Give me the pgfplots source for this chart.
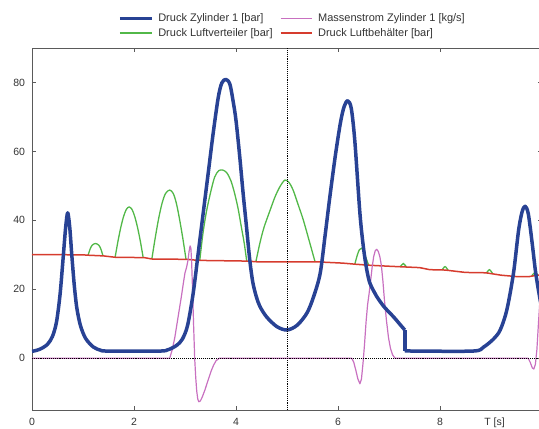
\documentclass[border=0pt]{standalone}
\usepackage{fontspec}
\setmainfont{Liberation Sans}
\usepackage{pgfplots}
\pgfplotsset{compat=1.18}
\definecolor{cBlue}{RGB}{40,66,148}
\definecolor{cGreen}{RGB}{82,184,72}
\definecolor{cRed}{RGB}{214,60,46}
\definecolor{cPink}{RGB}{200,112,192}
\definecolor{cAxis}{RGB}{90,90,90}
\pgfplotsset{
  blueS/.style={cBlue, line width=3.5pt, line join=round},
  pinkS/.style={cPink, line width=1.2pt, line join=round},
  greenS/.style={cGreen, line width=1.3pt, smooth, tension=0.5},
  redS/.style={cRed, line width=1.5pt},
}
\begin{document}
\begin{tikzpicture}
\begin{axis}[
  scale only axis,
  width=510pt, height=362pt,
  xmin=0, xmax=10, ymin=-15, ymax=90,
  xtick={0,2,4,6,8}, ytick={0,20,40,60,80},
  tick align=inside, major tick length=4pt,
  axis line style={cAxis, line width=0.9pt},
  every tick/.style={cAxis, line width=0.8pt},
  /pgf/number format/assume math mode=true,
  tick label style={font=\fontsize{10.5}{12}\selectfont, text=black!80},
  xticklabel style={anchor=base, yshift=-15.5pt},
  yticklabel style={xshift=-3.5pt},
  xlabel={T [s]},
  xlabel style={at={(axis description cs:0.907,0)}, anchor=base, yshift=-15.5pt, font=\fontsize{10.5}{12}\selectfont, text=black!80},
  legend columns=2,
  legend cell align=left,
  legend style={draw=none, fill=none, at={(axis description cs:0.169,1.1028)}, anchor=north west,
    inner sep=0pt, outer sep=0pt, font=\fontsize{11}{13}\selectfont,
    nodes={inner xsep=0pt, inner ysep=2.25pt, text height=8pt, text depth=2.5pt, text=black!80},
    /tikz/every odd column/.append style={column sep=5pt},
    /tikz/every even column/.append style={column sep=7pt}},
  legend image code/.code={\draw[#1] (0pt,0pt) -- (31.6pt,0pt);},
]
\addlegendimage{blueS}
\addlegendentry{Druck Zylinder 1 [bar]}
\addlegendimage{cPink, line width=1.4pt}
\addlegendentry{Massenstrom Zylinder 1 [kg/s]}
\addlegendimage{cGreen, line width=1.6pt}
\addlegendentry{Druck Luftverteiler [bar]}
\addlegendimage{cRed, line width=1.9pt}
\addlegendentry{Druck Luftbehälter [bar]}

% Druck Luftverteiler (arches above the tank pressure)
\addplot[greenS, forget plot] coordinates {(1.10,29.9)(1.14,31.7)(1.18,32.8)(1.245,33.3)(1.31,32.8)(1.35,31.7)(1.39,29.8)};
\addplot[greenS, forget plot] coordinates {(1.63,29.3)(1.685,33.9)(1.74,37.9)(1.795,41.1)(1.85,43.2)(1.905,43.9)(1.96,43.2)(2.015,41.1)(2.07,37.9)(2.125,33.9)(2.18,29.2)};
\addplot[greenS, forget plot] coordinates {(2.35,28.8)(2.417,35.0)(2.484,40.6)(2.551,45.0)(2.618,47.8)(2.70,48.8)(2.77,47.8)(2.83,45.0)(2.89,40.6)(2.955,35.0)(3.02,28.7)};
\addplot[greenS, forget plot] coordinates {(3.29,28.4)(3.35,36)(3.42,42.5)(3.5,48)(3.58,52.5)(3.66,54.4)(3.74,54.6)(3.82,53.8)(3.9,51.5)(3.97,48)(4.04,43.5)(4.1,38.5)(4.16,33.5)(4.21,28.2)};
\addplot[greenS, forget plot] coordinates {(4.39,28.0)(4.47,33.5)(4.55,38)(4.67,43)(4.77,47)(4.87,50)(4.96,51.7)(5.04,51)(5.12,48.8)(5.22,44.5)(5.32,40.1)(5.45,33.3)(5.55,28.0)};
\addplot[greenS, forget plot] coordinates {(6.33,27.3)(6.38,30)(6.42,31.5)(6.46,31.9)(6.5,31.2)(6.54,29.5)(6.6,27.0)};
\addplot[greenS, forget plot] coordinates {(7.22,26.5)(7.28,27.5)(7.34,26.5)};
\addplot[greenS, forget plot] coordinates {(8.04,25.6)(8.1,26.6)(8.16,25.5)};
\addplot[greenS, forget plot] coordinates {(8.91,24.7)(8.97,25.7)(9.03,24.6)};
\addplot[greenS, forget plot] coordinates {(9.8,23.9)(9.86,24.9)(9.92,24.1)};
% Druck Luftbehaelter
\addplot[redS, forget plot] coordinates {(0,30.1)(1.0,30.0)(1.1,29.9)(1.4,29.7)(1.63,29.3)(2.2,29.2)(2.35,28.8)(3.05,28.7)(3.25,28.4)(4.2,28.2)(4.4,28.0)(5.55,28.0)(6.1,27.6)(6.33,27.3)(6.6,27.0)(7.0,26.7)(7.3,26.5)(7.6,26.3)(7.8,25.7)(8.1,25.6)(8.5,24.9)(8.9,24.8)(9.2,24.1)(9.5,23.7)(9.75,23.7)(9.9,24.1)(10,24.1)};
% Massenstrom Zylinder 1
\addplot[pinkS, forget plot] coordinates {(0,0)(2.7,0)(2.75,2.5)(2.8,6)(2.87,12.5)(2.93,18)(2.97,22)(3.0,24.8)(3.03,26.3)(3.06,28.5)(3.08,31)(3.1,32.6)(3.115,32)(3.13,28)(3.15,19)(3.17,9)(3.19,0)(3.21,-5.5)(3.23,-9.5)(3.25,-11.8)(3.27,-12.6)(3.3,-12.4)(3.34,-11.2)(3.39,-9.2)(3.45,-6.5)(3.51,-3.8)(3.56,-2)(3.61,-0.7)(3.67,0)(6.27,0)(6.31,-1.2)(6.35,-3.5)(6.39,-6)(6.43,-7.4)(6.46,-6)(6.49,-1.5)(6.52,4)(6.55,10.5)(6.58,15.5)(6.61,18.8)(6.64,22.5)(6.67,26.5)(6.7,29.5)(6.73,31.2)(6.76,31.6)(6.79,31)(6.82,29.5)(6.85,27)(6.88,22.5)(6.91,17)(6.95,11)(6.99,6)(7.03,2.8)(7.07,1)(7.12,0)(9.73,0)(9.77,-1.2)(9.81,-2.8)(9.84,-3.1)(9.87,-1.8)(9.9,2.5)(9.93,10)(9.96,17)(10,24)};
% Druck Zylinder 1
\addplot[blueS, smooth, tension=0.5, forget plot] coordinates {(0,2.0)(0.15,2.6)(0.3,4.0)(0.4,6.3)(0.48,10.5)(0.55,18.5)(0.61,29)(0.66,38)(0.70,42.2)(0.74,38)(0.78,30)(0.83,21)(0.88,14.5)(0.95,9.5)(1.05,5.8)(1.2,3.3)(1.35,2.3)(1.5,2.1)(2.5,2.1)(2.65,2.4)(2.75,3.0)(2.85,3.9)(2.95,5.6)(3.05,9.5)(3.16,18.8)(3.26,30.6)(3.36,42.5)(3.46,54.3)(3.55,65)(3.65,75.5)(3.72,79.8)(3.8,80.9)(3.88,79.5)(3.95,74)(4.0,69)(4.07,59)(4.14,47.8)(4.2,39)(4.27,28.5)(4.33,22)(4.4,17.8)(4.47,15)(4.6,12)(4.8,9.2)(5.0,8.2)(5.2,9.6)(5.39,13.1)(5.52,17.8)(5.65,24.6)(5.75,36)(5.84,46.8)(5.95,59)(6.05,68.5)(6.12,73)(6.19,74.7)(6.26,72.5)(6.33,63)(6.43,42)(6.5,32)(6.56,26)(6.62,22)(6.7,19.5)(6.76,17.9)(6.9,15)(7.09,12)(7.2,10.1)(7.31,8.2)};
\addplot[blueS, forget plot] coordinates {(7.31,8.2)(7.31,2.2)};
\addplot[blueS, smooth, tension=0.5, forget plot] coordinates {(7.31,2.2)(7.5,2.1)(8.65,2.1)(8.85,3.2)(9.05,5.6)(9.18,8.2)(9.31,14)(9.44,24.6)(9.54,37)(9.61,42.5)(9.67,44.1)(9.73,42)(9.8,34.3)(9.87,25.5)(9.93,19.8)(10,14)};

% reference lines
\addplot[black, densely dotted, line width=0.9pt, forget plot] coordinates {(0,0)(10,0)};
\addplot[black, densely dotted, line width=0.9pt, forget plot] coordinates {(5,-15)(5,90)};
\end{axis}
\pgfresetboundingbox
\path[use as bounding box] ([shift={(-32pt,-19pt)}]current axis.south west) rectangle ([shift={(507pt,410pt)}]current axis.south west);
\end{tikzpicture}
\end{document}
